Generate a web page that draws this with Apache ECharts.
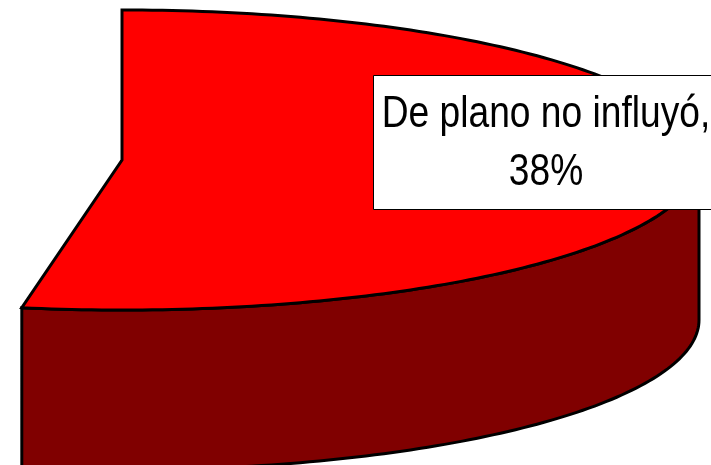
<!DOCTYPE html>
<html>
<head>
<meta charset="utf-8">
<style>html,body{margin:0;padding:0;background:#fff}#c{width:711px;height:465px}</style>
<script src="https://cdn.jsdelivr.net/npm/echarts@6/dist/echarts.min.js"></script>
</head>
<body>
<div id="c"></div>
<script>
var categories = ['De plano no influyó'];
var values = [38];

var chart = echarts.init(document.getElementById('c'), null, {renderer: 'canvas'});

// Projection of the tilted pie (the perspective widens the visible sweep)
var CX = 122, CY = 160, RX = 577, RY = 150, DEPTH = 160, DEG_PER_PCT = 5;

function rim(t, dy) {
  var a = t * Math.PI / 180;
  return [CX + RX * Math.sin(a), CY - RY * Math.cos(a) + (dy || 0)];
}

function renderItem(params, api) {
  var sweep = api.value(1) * DEG_PER_PCT;
  var i, top = [[CX, CY]], upper = [], lower = [];
  for (i = 0; i <= sweep; i += 1) top.push(rim(i));
  for (i = 90; i <= sweep; i += 1) { upper.push(rim(i)); lower.unshift(rim(i, DEPTH)); }
  var stroke = {stroke: '#000', lineWidth: 3, lineJoin: 'miter', miterLimit: 10};
  return {
    type: 'group',
    children: [
      {type: 'polygon', shape: {points: upper.concat(lower)},
       style: Object.assign({fill: '#800000'}, stroke)},
      {type: 'polygon', shape: {points: top},
       style: Object.assign({fill: '#ff0000'}, stroke)},
      {type: 'rect', shape: {x: 373.5, y: 75.5, width: 346, height: 134},
       style: {fill: '#fff', stroke: '#000', lineWidth: 1}},
      {type: 'text', x: 546, y: 144, scaleX: 0.845, scaleY: 1,
       style: {
         text: categories[params.dataIndex] + ',\n' + api.value(1) + '%',
         fontFamily: '"Liberation Sans", sans-serif',
         fontSize: 44, lineHeight: 58, fill: '#000',
         align: 'center', verticalAlign: 'middle'
       }}
    ]
  };
}

chart.setOption({
  backgroundColor: '#fff',
  animation: false,
  series: [{
    type: 'custom',
    coordinateSystem: 'none',
    renderItem: renderItem,
    clip: false,
    data: categories.map(function (c, i) { return [i, values[i]]; })
  }]
});
</script>
</body>
</html>
